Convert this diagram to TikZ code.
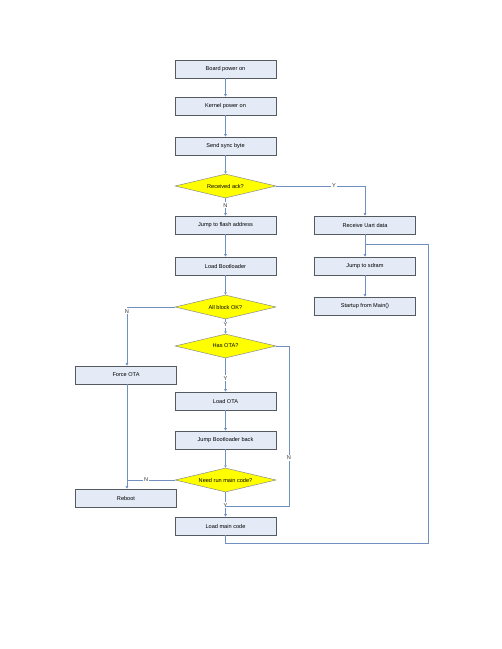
\documentclass[tikz,border=0pt]{standalone}
\usepackage{fontspec}
\setmainfont{Liberation Sans}
\usetikzlibrary{shapes.geometric,arrows.meta}
\definecolor{boxfill}{HTML}{E4EAF6}
\definecolor{boxline}{HTML}{555A60}
\definecolor{linkc}{HTML}{6F90C0}
\definecolor{diafill}{HTML}{FFFF00}
\begin{document}
\begin{tikzpicture}[x=1pt,y=-1pt,
  stepbox/.style={draw=boxline,fill=boxfill,line width=0.6pt,minimum width=101pt,minimum height=18pt,inner sep=0pt,font=\fontsize{5.6pt}{6.5pt}\selectfont},
  decision/.style={diamond,aspect=4.2,draw=boxline!70,fill=diafill,line width=0.5pt,minimum width=101pt,minimum height=24pt,inner sep=0pt,font=\fontsize{5.6pt}{6.5pt}\selectfont},
  link/.style={draw=linkc,line width=0.6pt},
  arr/.style={link,-{Triangle[width=2.5pt,length=2.5pt]}},
  lbl/.style={font=\fontsize{5.6pt}{6.5pt}\selectfont,text=black!80,inner sep=1pt,fill=white}]
\useasboundingbox (0,0) rectangle (502,649);
\node[stepbox] (board) at (225.5,69) {Board power on};
\node[stepbox] (kernel) at (225.5,106) {Kernel power on};
\node[stepbox] (sync) at (225.5,146) {Send sync byte};
\node[decision] (ack) at (225.5,186) {Received ack?};
\node[stepbox] (jflash) at (225.5,225) {Jump to flash address};
\node[stepbox] (lboot) at (225.5,266) {Load Bootloader};
\node[decision] (allok) at (225.5,307) {All block OK?};
\node[decision] (hasota) at (225.5,346) {Has OTA?};
\node[stepbox] (force) at (126,375) {Force OTA};
\node[stepbox] (lota) at (225.5,401) {Load OTA};
\node[stepbox] (jback) at (225.5,440) {Jump Bootloader back};
\node[decision] (needrun) at (225.5,480) {Need run main code?};
\node[stepbox] (reboot) at (126,498) {Reboot};
\node[stepbox] (lmain) at (225.5,526) {Load main code};
\node[stepbox] (uart) at (365,225) {Receive Uart  data};
\node[stepbox] (sdram) at (365,266) {Jump to sdram};
\node[stepbox] (startup) at (365,306) {Startup from Main()};
\coordinate (cY) at (365,186);
\coordinate (cN1) at (127,307);
\coordinate (cN2) at (127,480);
\coordinate (hr) at (289,346);
\coordinate (hb) at (289,506);
\coordinate (jy) at (225.5,506);
\coordinate (m1) at (225.5,543);
\coordinate (m2) at (428,543);
\coordinate (m3) at (428,244);
\coordinate (m4) at (365,244);

\draw[arr] (board) -- (kernel);
\draw[arr] (kernel) -- (sync);
\draw[arr] (sync) -- (ack);
\draw[arr] (ack) -- node[lbl,pos=0.4]{N} (jflash);
\draw[arr] (ack.east) -- node[lbl,pos=0.65]{Y} (cY) -- (uart.north);
\draw[arr] (jflash) -- (lboot);
\draw[arr] (lboot) -- (allok);
\draw[arr] (allok) -- node[lbl,pos=0.4]{Y} (hasota);
\draw[arr] (allok.west) -- (cN1) -- node[lbl,pos=0.07]{N} (force.north -| cN1);
\draw[arr] (hasota) -- node[lbl,pos=0.6]{Y} (lota);
\draw[arr] (lota) -- (jback);
\draw[arr] (jback) -- (needrun);
\draw[arr] (force.south -| cN1) -- (reboot.north -| cN1);
\draw[link] (needrun.west) -- node[lbl,pos=0.6]{N} (cN2);
\draw[arr] (needrun) -- node[lbl,pos=0.53]{Y} (lmain);
\draw[link] (hasota.east) -- (hr) -- node[lbl,pos=0.7]{N} (hb) -- (jy);
\draw[arr] (uart) -- (sdram);
\draw[arr] (sdram) -- (startup);
\draw[link] (lmain.south) -- (m1) -- (m2) -- (m3) -- (m4);
\end{tikzpicture}
\end{document}
